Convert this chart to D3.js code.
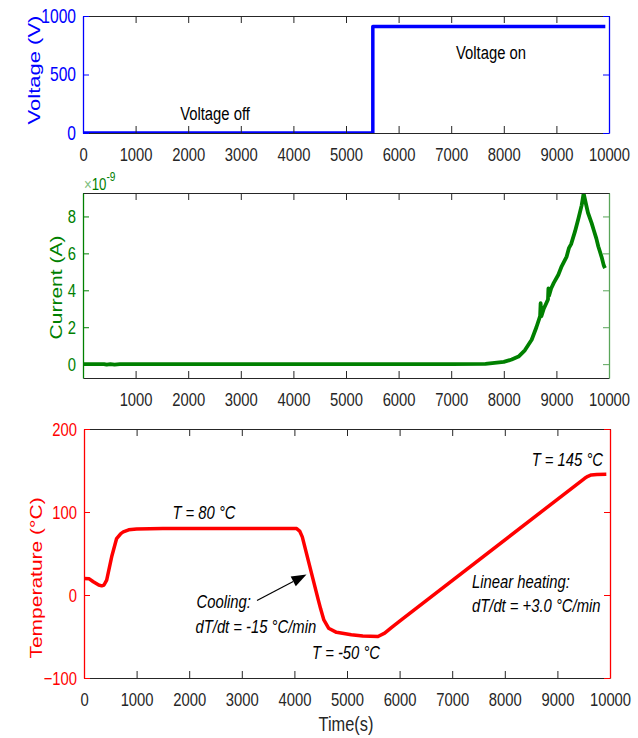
<!DOCTYPE html>
<html>
<head>
<meta charset="utf-8">
<script src="https://cdn.jsdelivr.net/npm/d3@7"></script>
<style>
  html, body { margin: 0; padding: 0; background: #fff; }
  svg { display: block; }
  text { font-family: Arial, "Liberation Sans", Helvetica, sans-serif; }
</style>
</head>
<body>
<svg id="chart" width="638" height="738"></svg>
<script>
// ---------------- data ----------------
const xTicks = [0, 1000, 2000, 3000, 4000, 5000, 6000, 7000, 8000, 9000, 10000];
const xTicksMid = [1000, 2000, 3000, 4000, 5000, 6000, 7000, 8000, 9000, 10000];

const timeV = [0, 5510, 5510, 9930];
const voltage = [0, 0, 910, 910];
const voltTicks = [0, 500, 1000];

const timeI = [0, 400, 450, 520, 600, 700, 800, 2000, 5500, 7000, 7650, 8000, 8150, 8280, 8400,
  8530, 8620, 8690, 8700, 8715, 8760, 8840, 8848, 8860, 8900, 8950, 9037, 9100, 9195, 9240,
  9280, 9354, 9420, 9480, 9518, 9560, 9600, 9670, 9708, 9760, 9797, 9860, 9900, 9924];
const current = [0, 0, -0.03, 0, -0.03, 0, 0, 0, 0, 0, 0.02, 0.12, 0.25, 0.41, 0.75,
  1.32, 2.0, 2.6, 3.3, 2.6, 3.0, 3.5, 4.1, 3.7, 4.1, 4.4, 4.84, 5.3, 5.83, 6.3,
  6.5, 7.19, 7.9, 8.6, 9.25, 8.7, 8.2, 7.64, 7.28, 6.8, 6.37, 5.8, 5.35, 5.2];
const currTicks = [0, 2, 4, 6, 8];

const timeT = [0, 100, 177, 280, 336, 380, 431, 526, 620, 700, 747, 850, 1000, 1500, 4043,
  4100, 4150, 4450, 4500, 4560, 4650, 4800, 5082, 5300, 5589, 5716, 5850, 6032, 9519, 9580,
  9644, 9750, 9930];
const temp = [20, 19.5, 16, 12, 11, 12, 18, 46, 68, 74, 76, 78.5, 79.5, 80, 80,
  77, 70, -5, -17, -30, -40, -45, -48, -49.5, -50, -46, -39, -30, 140.6, 143,
  144.6, 145.2, 145.4];
const tempTicks = [-100, 0, 100, 200];

// ---------------- setup ----------------
const svg = d3.select("#chart");
const SX = 0.78;           // horizontal squeeze of glyphs seen in the reference
const FONT = 19;
const GRAY = "#262626";
const fmt = d3.format("d");

function label(parent, x, y, str, o = {}) {
  const g = parent.append("g")
    .attr("transform", `translate(${x},${y}) scale(${SX},1)` + (o.rotate ? " rotate(-90)" : ""));
  const t = g.append("text")
    .attr("text-anchor", o.anchor || "middle")
    .attr("font-size", o.size || FONT)
    .attr("fill", o.color || "#000")
    .text(str);
  if (o.italic) t.attr("font-style", "italic");
  return t;
}

function panel(cfg) {
  const x = d3.scaleLinear().domain([0, 10000]).range([cfg.x0, cfg.x1]);
  const y = d3.scaleLinear().domain(cfg.yDomain).range([cfg.y1, cfg.y0]);
  const g = svg.append("g");

  const clipId = "clip" + cfg.id;
  svg.append("clipPath").attr("id", clipId)
    .append("rect").attr("x", cfg.x0).attr("y", cfg.y0)
    .attr("width", cfg.x1 - cfg.x0).attr("height", cfg.y1 - cfg.y0);

  // data line
  const pts = cfg.xs.map((d, i) => [d, cfg.ys[i]]);
  g.append("path")
    .attr("clip-path", `url(#${clipId})`)
    .attr("d", d3.line().x(d => x(d[0])).y(d => y(d[1]))(pts))
    .attr("fill", "none")
    .attr("stroke", cfg.color)
    .attr("stroke-width", cfg.lw || 3.5)
    .attr("stroke-linejoin", "round");

  // bottom axis
  const bAx = g.append("g").attr("transform", `translate(0,${cfg.y1})`)
    .call(d3.axisBottom(x).tickValues(xTicks).tickSizeInner(-7).tickSizeOuter(0)
      .tickPadding(15).tickFormat(d => cfg.xLabels.includes(d) ? fmt(d) : ""));
  bAx.select(".domain").attr("stroke", GRAY);
  bAx.selectAll(".tick line").attr("stroke", GRAY);
  bAx.selectAll(".tick text").attr("font-size", FONT).attr("fill", GRAY)
    .attr("font-family", "Arial, 'Liberation Sans', sans-serif")
    .attr("transform", `scale(${SX},1)`);

  // top axis
  const tAx = g.append("g").attr("transform", `translate(0,${cfg.y0})`)
    .call(d3.axisTop(x).tickValues(xTicks).tickSizeInner(-7).tickSizeOuter(0).tickFormat(""));
  tAx.select(".domain").attr("stroke", GRAY);
  tAx.selectAll(".tick line").attr("stroke", GRAY);

  // left axis
  const lAx = g.append("g").attr("transform", `translate(${cfg.x0},0)`)
    .call(d3.axisLeft(y).tickValues(cfg.yTicks).tickSizeInner(-6).tickSizeOuter(0)
      .tickPadding(9).tickFormat(fmt));
  lAx.select(".domain").attr("stroke", cfg.axisColor).attr("stroke-width", 1.3);
  lAx.selectAll(".tick line").attr("stroke", cfg.axisColor);
  lAx.selectAll(".tick text").attr("font-size", cfg.yTickSize || FONT).attr("fill", cfg.axisColor)
    .attr("font-family", "Arial, 'Liberation Sans', sans-serif")
    .attr("transform", `scale(${SX},1)`);

  // right axis
  const rAx = g.append("g").attr("transform", `translate(${cfg.x1},0)`)
    .call(d3.axisRight(y).tickValues(cfg.yTicks).tickSizeInner(-6).tickSizeOuter(0).tickFormat(""));
  rAx.select(".domain").attr("stroke", cfg.rightColor || cfg.axisColor).attr("stroke-width", 1.3);
  rAx.selectAll(".tick line").attr("stroke", cfg.rightColor || cfg.axisColor);

  return { x, y, g };
}

// ---------------- panels ----------------
panel({
  id: "V", x0: 83, x1: 609, y0: 16, y1: 133, yDomain: [0, 1000],
  xs: timeV, ys: voltage, color: "#0000ff", axisColor: "#0000ff",
  yTicks: voltTicks, xLabels: xTicks, yTickSize: 20
});
label(svg, 39.5, 70, "Voltage (V)", { rotate: true, color: "#0000ff", size: 22 });
label(svg, 215, 120, "Voltage off");
label(svg, 491, 59, "Voltage on");

panel({
  id: "I", x0: 83, x1: 609, y0: 193, y1: 378, yDomain: [-0.75, 9.27],
  xs: timeI, ys: current, color: "#008000", axisColor: "#008000", rightColor: "#5aa55a",
  yTicks: currTicks, xLabels: xTicksMid, lw: 3.8
});
label(svg, 61.5, 287.5, "Current (A)", { rotate: true, color: "#008000", size: 21 });
{
  const g = svg.append("g").attr("transform", `translate(84,190) scale(${SX},1)`);
  const t = g.append("text").attr("font-size", 17).attr("fill", "#008000");
  t.append("tspan").attr("fill", "#80c080").text("\u00d7");
  t.append("tspan").text("10");
  t.append("tspan").attr("font-size", 13).attr("dy", -9).text("-9");
}

panel({
  id: "T", x0: 84, x1: 610, y0: 429, y1: 678, yDomain: [-100, 200],
  xs: timeT, ys: temp, color: "#ff0000", axisColor: "#ff0000",
  yTicks: tempTicks, xLabels: xTicks
});
label(svg, 41.5, 578, "Temperature (\u00b0C)", { rotate: true, color: "#ff0000", size: 21 });
label(svg, 346, 731, "Time(s)", { color: GRAY, size: 21 });

label(svg, 204, 519, "T = 80 \u00b0C", { italic: true });
label(svg, 196.5, 608, "Cooling:", { italic: true, anchor: "start" });
label(svg, 195.5, 632.5, "dT/dt = -15 \u00b0C/min", { italic: true, anchor: "start" });
label(svg, 380, 659, "T = -50 \u00b0C", { italic: true, anchor: "end" });
label(svg, 603, 466, "T = 145 \u00b0C", { italic: true, anchor: "end" });
label(svg, 472, 588, "Linear heating:", { italic: true, anchor: "start" });
label(svg, 472, 611.5, "dT/dt = +3.0 \u00b0C/min", { italic: true, anchor: "start" });

// arrow annotation
{
  const sx = 257, sy = 600.5, tx = 306.5, ty = 574.5;
  const ang = Math.atan2(ty - sy, tx - sx);
  const hl = 15, hw = 5.5;
  const bx = tx - hl * Math.cos(ang), by = ty - hl * Math.sin(ang);
  const nx = -Math.sin(ang), ny = Math.cos(ang);
  svg.append("line").attr("x1", sx).attr("y1", sy).attr("x2", bx).attr("y2", by)
    .attr("stroke", "#000").attr("stroke-width", 1.2);
  svg.append("polygon")
    .attr("points", [[tx, ty], [bx + nx * hw, by + ny * hw], [bx - nx * hw, by - ny * hw]].map(p => p.join(",")).join(" "))
    .attr("fill", "#000");
}
</script>
</body>
</html>
